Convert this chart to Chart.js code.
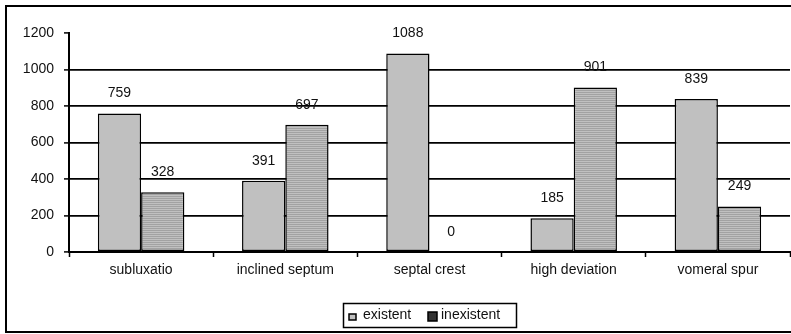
<!DOCTYPE html>
<html>
<head>
<meta charset="utf-8">
<script src="https://cdn.jsdelivr.net/npm/chart.js@4.4.1/dist/chart.umd.min.js"></script>
<style>
  html, body { margin: 0; padding: 0; background: #fff; overflow: hidden; }
  #wrap { width: 791px; height: 334px; }
</style>
</head>
<body>
<div id="wrap"><canvas id="chart" width="791" height="334"></canvas></div>
<script>
// Chart data
const categories = ['subluxatio', 'inclined septum', 'septal crest', 'high deviation', 'vomeral spur']
const existent = [759, 391, 1088, 185, 839]
const inexistent = [328, 697, 0, 901, 249]
const seriesNames = ['existent', 'inexistent']
const yTicks = [0, 200, 400, 600, 800, 1000, 1200]

const FONT = '"Liberation Sans", Arial, sans-serif'
const FS = 14

// Horizontal hatch fill for the second series
function makeHatch() {
  const c = document.createElement('canvas')
  c.width = 4
  c.height = 2
  const g = c.getContext('2d')
  g.fillStyle = '#a2a2a2'
  g.fillRect(0, 0, 4, 1)
  g.fillStyle = '#c0c0c0'
  g.fillRect(0, 1, 4, 1)
  return g.createPattern(c, 'repeat')
}

const hatch = makeHatch()

// Value labels above each bar
const valueLabels = {
  id: 'valueLabels',
  afterDatasetsDraw(chart) {
    const ctx = chart.ctx
    ctx.save()
    ctx.font = FS + 'px ' + FONT
    ctx.fillStyle = '#111'
    ctx.textAlign = 'center'
    ctx.textBaseline = 'middle'
    chart.data.datasets.forEach((ds, i) => {
      chart.getDatasetMeta(i).data.forEach((bar, j) => {
        ctx.fillText(String(ds.data[j]), bar.x, bar.y - 20)
      })
    })
    ctx.restore()
  }
}

// Frame and boxed legend
const frameAndLegend = {
  id: 'frameAndLegend',
  afterDraw(chart) {
    const ctx = chart.ctx
    ctx.save()
    ctx.strokeStyle = '#000'
    ctx.lineWidth = 2
    ctx.strokeRect(6, 6, 800, 326)

    // legend box
    ctx.lineWidth = 1.5
    ctx.strokeRect(343.5, 303.5, 173, 24)

    const fills = ['#c0c0c0', '#333']
    const marks = [[349, 314, 7, 6], [428, 312, 9, 9]]
    const textX = [363, 441]
    ctx.font = FS + 'px ' + FONT
    ctx.textBaseline = 'middle'
    ctx.textAlign = 'left'
    seriesNames.forEach((name, i) => {
      const [mx, my, mw, mh] = marks[i]
      ctx.fillStyle = fills[i]
      ctx.fillRect(mx, my, mw, mh)
      ctx.lineWidth = 1.5
      ctx.strokeStyle = '#000'
      ctx.strokeRect(mx, my, mw, mh)
      ctx.fillStyle = '#111'
      ctx.fillText(name, textX[i], 315)
    })
    ctx.restore()
  }
}

new Chart(document.getElementById('chart'), {
  type: 'bar',
  data: {
    labels: categories,
    datasets: [
      {
        label: seriesNames[0],
        data: existent,
        backgroundColor: '#c0c0c0',
        borderColor: '#000',
        borderWidth: 1.5,
        borderSkipped: false,
        categoryPercentage: 0.6,
        barPercentage: 1
      },
      {
        label: seriesNames[1],
        data: inexistent,
        backgroundColor: hatch,
        borderColor: '#000',
        borderWidth: 1.5,
        borderSkipped: false,
        categoryPercentage: 0.6,
        barPercentage: 1
      }
    ]
  },
  options: {
    responsive: false,
    animation: false,
    devicePixelRatio: 1,
    layout: { padding: { top: 33, right: 1, bottom: 52, left: 0 } },
    plugins: {
      legend: { display: false },
      tooltip: { enabled: false }
    },
    scales: {
      x: {
        grid: {
          offset: true,
          drawOnChartArea: false,
          drawTicks: true,
          tickLength: 5,
          tickColor: '#000',
          tickWidth: 1.5
        },
        border: { display: true, color: '#000', width: 2 },
        ticks: {
          color: '#111',
          font: { family: FONT, size: FS },
          padding: 5
        },
        afterFit(scale) { scale.height = 30 }
      },
      y: {
        min: 0,
        max: 1200,
        afterBuildTicks(scale) {
          scale.ticks = yTicks.map(v => ({ value: v }))
        },
        grid: {
          color: ctx => (ctx.tick && (ctx.tick.value === 1200 || ctx.tick.value === 0)) ? 'rgba(0,0,0,0)' : '#000',
          lineWidth: 1.8,
          tickColor: '#000',
          tickWidth: 1.5,
          tickLength: 5
        },
        border: { display: true, color: '#000', width: 2 },
        ticks: {
          color: '#111',
          font: { family: FONT, size: FS },
          padding: 10,
          callback: v => String(v)
        },
        afterFit(scale) { scale.width = 69 }
      }
    }
  },
  plugins: [valueLabels, frameAndLegend]
})
</script>
</body>
</html>
